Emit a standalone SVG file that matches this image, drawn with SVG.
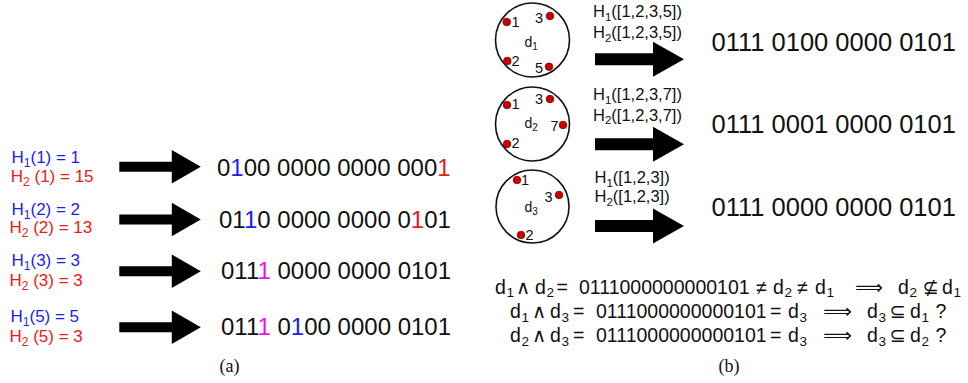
<svg xmlns="http://www.w3.org/2000/svg" xmlns:xlink="http://www.w3.org/1999/xlink" width="968" height="383" viewBox="0 0 968 383">
  <style>
    text { font-family: "Liberation Sans", "DejaVu Sans", sans-serif; fill: #111; }
    .lab { font-size: 17px; }
    .blue { fill: #1c1cf5; }
    .red { fill: #f01818; }
    .mag { fill: #f010f0; }
    .binA { font-size: 24px; }
    .binB { font-size: 25.5px; }
    .hb { font-size: 16.5px; }
    .num { font-size: 14.5px; }
    .dname { font-size: 14px; }
    .eq { font-size: 19.5px; }
    .sub { font-size: 13.5px; }
    .cap { font-family: "Liberation Serif", serif; font-size: 18px; text-anchor: middle; }
    .ring { fill: #fff; stroke: #111; stroke-width: 1.6; }
    .dot { fill: #cc0000; stroke: #7a0000; stroke-width: 0.8; }
    .arrow { fill: #000; }
  </style>
  <defs>
    <path id="arrowA" d="M0,-5 H52.5 V-16.7 L81.5,0 L52.5,16.7 V5 H0 Z"/>
    <path id="arrowB" d="M0,-6 H58 V-17.5 L89,0 L58,17.5 V6 H0 Z"/>
  </defs>

  <!-- connectors: block arrows -->
  <g id="connectors" class="arrow">
    <use xlink:href="#arrowA" x="119.3" y="166.7"/>
    <use xlink:href="#arrowA" x="119.3" y="219.5"/>
    <use xlink:href="#arrowA" x="119.3" y="271.3"/>
    <use xlink:href="#arrowA" x="119.3" y="327.3"/>
    <use xlink:href="#arrowB" x="595" y="59.2"/>
    <use xlink:href="#arrowB" x="595" y="144.2"/>
    <use xlink:href="#arrowB" x="595" y="226"/>
  </g>

  <!-- (a) hash values -->
  <g id="hash1" class="lab">
    <text x="11.5" y="163" class="blue">H<tspan font-size="12" dy="4">1</tspan><tspan dy="-4">(1) = 1</tspan></text>
    <text x="10.8" y="182" class="red">H<tspan font-size="12" dy="4">2</tspan><tspan dy="-4"> (1) = 15</tspan></text>
  </g>
  <g id="hash2" class="lab">
    <text x="11.5" y="215" class="blue">H<tspan font-size="12" dy="4">1</tspan><tspan dy="-4">(2) = 2</tspan></text>
    <text x="9.5" y="233" class="red">H<tspan font-size="12" dy="4">2</tspan><tspan dy="-4"> (2) = 13</tspan></text>
  </g>
  <g id="hash3" class="lab">
    <text x="11.5" y="266" class="blue">H<tspan font-size="12" dy="4">1</tspan><tspan dy="-4">(3) = 3</tspan></text>
    <text x="9.5" y="286" class="red">H<tspan font-size="12" dy="4">2</tspan><tspan dy="-4"> (3) = 3</tspan></text>
  </g>
  <g id="hash5" class="lab">
    <text x="10.5" y="322" class="blue">H<tspan font-size="12" dy="4">1</tspan><tspan dy="-4">(5) = 5</tspan></text>
    <text x="9.5" y="342" class="red">H<tspan font-size="12" dy="4">2</tspan><tspan dy="-4"> (5) = 3</tspan></text>
  </g>

  <!-- (a) bit vectors -->
  <g id="bits1" class="binA"><text x="217" y="176">0<tspan class="blue">1</tspan>00 0000 0000 000<tspan class="red">1</tspan></text></g>
  <g id="bits2" class="binA"><text x="219" y="228">01<tspan class="blue">1</tspan>0 0000 0000 0<tspan class="red">1</tspan>01</text></g>
  <g id="bits3" class="binA"><text x="221" y="279">011<tspan class="mag">1</tspan> 0000 0000 0101</text></g>
  <g id="bits4" class="binA"><text x="221" y="335">011<tspan class="mag">1</tspan> 0<tspan class="blue">1</tspan>00 0000 0101</text></g>

  <!-- (b) documents as token sets -->
  <g id="doc1">
    <circle class="ring" cx="532.5" cy="40" r="37"/>
    <circle class="dot" cx="506.7" cy="22" r="3.8"/>
    <circle class="dot" cx="550" cy="16" r="3.8"/>
    <circle class="dot" cx="507.3" cy="61" r="3.8"/>
    <circle class="dot" cx="549" cy="66.7" r="3.8"/>
    <text class="num" x="511.5" y="26.7">1</text>
    <text class="num" x="535" y="23.3">3</text>
    <text class="num" x="511.5" y="65.7">2</text>
    <text class="num" x="535" y="73">5</text>
    <text class="dname" x="524.5" y="46.5">d<tspan font-size="10" dy="3">1</tspan></text>
  </g>
  <g id="doc2">
    <circle class="ring" cx="532.5" cy="124" r="37"/>
    <circle class="dot" cx="507" cy="105" r="3.8"/>
    <circle class="dot" cx="550" cy="99" r="3.8"/>
    <circle class="dot" cx="563" cy="125" r="3.8"/>
    <circle class="dot" cx="507" cy="144" r="3.8"/>
    <text class="num" x="511.5" y="109">1</text>
    <text class="num" x="535" y="104">3</text>
    <text class="num" x="550.5" y="130.7">7</text>
    <text class="num" x="511.5" y="148.3">2</text>
    <text class="dname" x="524.5" y="128">d<tspan font-size="10" dy="3">2</tspan></text>
  </g>
  <g id="doc3">
    <circle class="ring" cx="532.5" cy="206.5" r="36.5"/>
    <circle class="dot" cx="517" cy="180" r="3.8"/>
    <circle class="dot" cx="559" cy="195" r="3.8"/>
    <circle class="dot" cx="521" cy="235" r="3.8"/>
    <text class="num" x="521" y="185">1</text>
    <text class="num" x="544.5" y="201.7">3</text>
    <text class="num" x="525.5" y="240">2</text>
    <text class="dname" x="524.5" y="211.5">d<tspan font-size="10" dy="3">3</tspan></text>
  </g>

  <!-- (b) hash labels over arrows -->
  <g id="hashset1" class="hb">
    <text x="593" y="17">H<tspan font-size="11.5" dy="3.5">1</tspan><tspan dy="-3.5">([1,2,3,5])</tspan></text>
    <text x="593" y="38">H<tspan font-size="11.5" dy="3.5">2</tspan><tspan dy="-3.5">([1,2,3,5])</tspan></text>
  </g>
  <g id="hashset2" class="hb">
    <text x="593" y="100">H<tspan font-size="11.5" dy="3.5">1</tspan><tspan dy="-3.5">([1,2,3,7])</tspan></text>
    <text x="593" y="120.5">H<tspan font-size="11.5" dy="3.5">2</tspan><tspan dy="-3.5">([1,2,3,7])</tspan></text>
  </g>
  <g id="hashset3" class="hb">
    <text x="594.5" y="183">H<tspan font-size="11.5" dy="3.5">1</tspan><tspan dy="-3.5">([1,2,3])</tspan></text>
    <text x="594.5" y="202">H<tspan font-size="11.5" dy="3.5">2</tspan><tspan dy="-3.5">([1,2,3])</tspan></text>
  </g>

  <!-- (b) bit vectors -->
  <g id="sig1" class="binB"><text x="711.5" y="51">0111 0100 0000 0101</text></g>
  <g id="sig2" class="binB"><text x="711.5" y="133">0111 0001 0000 0101</text></g>
  <g id="sig3" class="binB"><text x="711.5" y="216">0111 0000 0000 0101</text></g>

  <!-- (b) containment reasoning; each token placed on its own column -->
  <g id="equations" class="eq">
    <text y="293.5"><tspan x="495">d</tspan><tspan class="sub" x="506.5" y="297">1</tspan><tspan x="516" y="293.5">∧</tspan><tspan x="535">d</tspan><tspan class="sub" x="546.5" y="297">2</tspan><tspan x="556.5" y="293.5">=</tspan><tspan x="579">0111000000000101</tspan><tspan x="756">≠</tspan><tspan x="773">d</tspan><tspan class="sub" x="784.5" y="297">2</tspan><tspan x="797" y="293.5">≠</tspan><tspan x="815">d</tspan><tspan class="sub" x="826.5" y="297">1</tspan><tspan x="922.5" y="293.5">⊈</tspan><tspan x="898">d</tspan><tspan class="sub" x="909.5" y="297">2</tspan><tspan x="942" y="293.5">d</tspan><tspan class="sub" x="953.5" y="297">1</tspan></text>
    <text x="855" y="293.5" textLength="28" lengthAdjust="spacingAndGlyphs">⟹</text>

    <text y="318"><tspan x="510">d</tspan><tspan class="sub" x="521.5" y="321.5">1</tspan><tspan x="532" y="318">∧</tspan><tspan x="550">d</tspan><tspan class="sub" x="561.5" y="321.5">3</tspan><tspan x="573" y="318">=</tspan><tspan x="596">0111000000000101</tspan><tspan x="770">=</tspan><tspan x="788">d</tspan><tspan class="sub" x="799.5" y="321.5">3</tspan><tspan x="867" y="318">d</tspan><tspan class="sub" x="878.5" y="321.5">3</tspan><tspan x="889.5" y="318">⊆</tspan><tspan x="910">d</tspan><tspan class="sub" x="921.5" y="321.5">1</tspan><tspan x="935.5" y="318">?</tspan></text>
    <text x="823" y="318" textLength="29" lengthAdjust="spacingAndGlyphs">⟹</text>

    <text y="342"><tspan x="510">d</tspan><tspan class="sub" x="521.5" y="345.5">2</tspan><tspan x="532" y="342">∧</tspan><tspan x="550">d</tspan><tspan class="sub" x="561.5" y="345.5">3</tspan><tspan x="573" y="342">=</tspan><tspan x="596">0111000000000101</tspan><tspan x="770">=</tspan><tspan x="788">d</tspan><tspan class="sub" x="799.5" y="345.5">3</tspan><tspan x="867" y="342">d</tspan><tspan class="sub" x="878.5" y="345.5">3</tspan><tspan x="889.5" y="342">⊆</tspan><tspan x="910">d</tspan><tspan class="sub" x="921.5" y="345.5">2</tspan><tspan x="935.5" y="342">?</tspan></text>
    <text x="823" y="342" textLength="29" lengthAdjust="spacingAndGlyphs">⟹</text>
  </g>

  <!-- panel captions -->
  <g id="captions">
    <text class="cap" x="229.5" y="372">(a)</text>
    <text class="cap" x="729" y="372">(b)</text>
  </g>
</svg>
